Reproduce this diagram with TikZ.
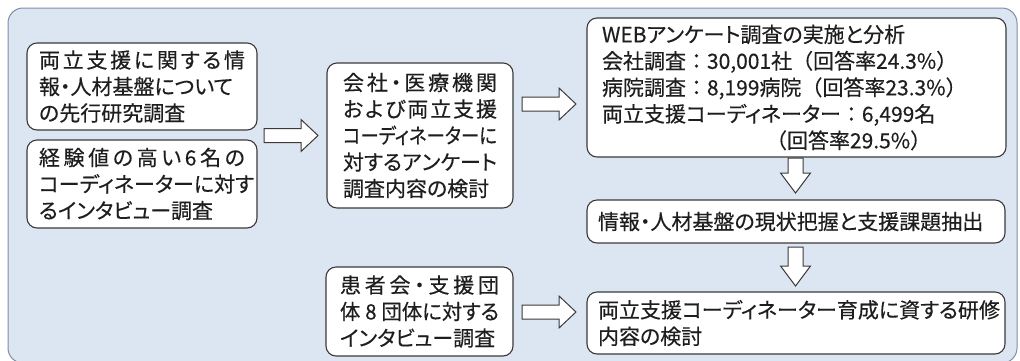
\documentclass[tikz,border=0pt]{standalone}
\usepackage{graphicx}
\usepackage{fontspec}
\setmainfont{Noto Sans CJK JP}[RawFeature=+palt, FakeBold=0.3]
\newfontfamily\jpfw{Noto Sans CJK JP}[FakeBold=0.3]
\usetikzlibrary{calc}
\definecolor{bgfill}{HTML}{DCE6F2}
\definecolor{bgline}{HTML}{7F8FA6}
\definecolor{boxline}{HTML}{3A3A3A}
\definecolor{txt}{HTML}{1E1E1E}
\tikzset{
  box/.style={draw=boxline, line width=1.1pt, fill=white, rounded corners=10pt,
    align=left, anchor=center, font=\fontsize{21pt}{26.5pt}\selectfont,
    text=txt, inner ysep=0pt},
  blockarrow/.style={draw=boxline, line width=1pt, fill=white, line join=miter},
  bgbox/.style={draw=bgline, line width=1pt, fill=bgfill, rounded corners=15pt},
}
\newcommand\spreadline[2]{\makebox[#1][s]{#2}}
\newcommand\fw[1]{{\jpfw #1}}
% horizontal block arrow from #1 (tail) to #2 (tip)
\newcommand\harrow[2]{%
  \draw[blockarrow] let \p1=(#1), \p2=(#2) in
    (\x1,\y1+7pt) -- (\x2-17pt,\y1+7pt) -- (\x2-17pt,\y1+16pt) -- (\x2,\y1)
    -- (\x2-17pt,\y1-16pt) -- (\x2-17pt,\y1-7pt) -- (\x1,\y1-7pt) -- cycle;}
% vertical (downward) block arrow from #1 (tail) to #2 (tip)
\newcommand\varrow[2]{%
  \draw[blockarrow] let \p1=(#1), \p2=(#2) in
    (\x1-7.5pt,\y1) -- (\x1-7.5pt,\y2+20pt) -- (\x1-15pt,\y2+20pt) -- (\x1,\y2)
    -- (\x1+15pt,\y2+20pt) -- (\x1+7.5pt,\y2+20pt) -- (\x1+7.5pt,\y1) -- cycle;}
\begin{document}
\begin{tikzpicture}[x=1pt,y=-1pt]
\useasboundingbox (0,0) rectangle (1020,360);
\draw[bgbox] (8,8) rectangle (1017,363);

\node[box, minimum width=230pt, minimum height=87pt, inner xsep=12pt, text width=206pt] (b1) at (142,86.5)
  {\spreadline{206pt}{両\hfil 立\hfil 支\hfil 援\hfil に\hfil 関\hfil す\hfil る\hfil 情}\\報・人材基盤について\\の先行研究調査};
\node[box, minimum width=230pt, minimum height=88pt, inner xsep=12pt, text width=206pt] (b2) at (142,184)
  {\spreadline{206pt}{経\hfil 験\hfil 値\hfil の\hfil 高\hfil い\hfil 6\hfil 名\hfil の}\\コーディネーターに対す\\るインタビュー調査};
\node[box, minimum width=186pt, minimum height=145pt, inner xsep=16pt, text width=154pt] (b3) at (420,135.5)
  {\spreadline{154pt}{会\hfil 社\hfil ・\hfil 医\hfil 療\hfil 機\hfil 関}\\
   \spreadline{154pt}{お\hfil よ\hfil び\hfil 両\hfil 立\hfil 支\hfil 援}\\
   \resizebox{154pt}{\height}{コーディネーターに}\\
   \spreadline{154pt}{対\hfil す\hfil る\hfil ア\hfil ン\hfil ケ\hfil ー\hfil ト}\\
   調査内容の検討};
\node[box, minimum width=419pt, minimum height=139pt, inner xsep=15pt, text width=389pt] (b4) at (796.5,87.5)
  {WEBアンケート調査の実施と分析\\
   会社調査\fw{：}30,001社\fw{（}回答率24.3\%\fw{）}\\
   病院調査\fw{：}8,199病院\fw{（}回答率23.3\%\fw{）}\\
   両立支援コーディネーター\fw{：}6,499名\\
   \hspace*{164pt}\fw{（}回答率29.5\%\fw{）}};
\node[box, minimum width=418pt, minimum height=43pt, inner xsep=11pt, text width=396pt] (b5) at (796,221.5)
  {情報・人材基盤の現状把握と支援課題抽出};
\node[box, minimum width=418pt, minimum height=62pt, inner xsep=11pt, text width=396pt] (b6) at (796,323)
  {両立支援コーディネーター育成に資する研修\\内容の検討};
\node[box, minimum width=187pt, minimum height=89pt, inner xsep=14pt, text width=159pt] (b7) at (419.5,311.5)
  {\spreadline{159pt}{患\hfil 者\hfil 会\hfil ・\hfil 支\hfil 援\hfil 団}\\
   \resizebox{159pt}{\height}{体\hspace{5pt}8\hspace{5pt}団体に対する}\\
   インタビュー調査};

\coordinate (a1s) at (264,135.5);
\coordinate (a1e) at (318,135.5);
\coordinate (a2s) at (522,104);
\coordinate (a2e) at (576,104);
\coordinate (a3s) at (522,312);
\coordinate (a3e) at (576,312);
\coordinate (d1s) at (795.5,158);
\coordinate (d1e) at (795.5,193);
\coordinate (d2s) at (795.5,247);
\coordinate (d2e) at (795.5,286);
\harrow{a1s}{a1e}
\harrow{a2s}{a2e}
\harrow{a3s}{a3e}
\varrow{d1s}{d1e}
\varrow{d2s}{d2e}
\end{tikzpicture}
\end{document}
